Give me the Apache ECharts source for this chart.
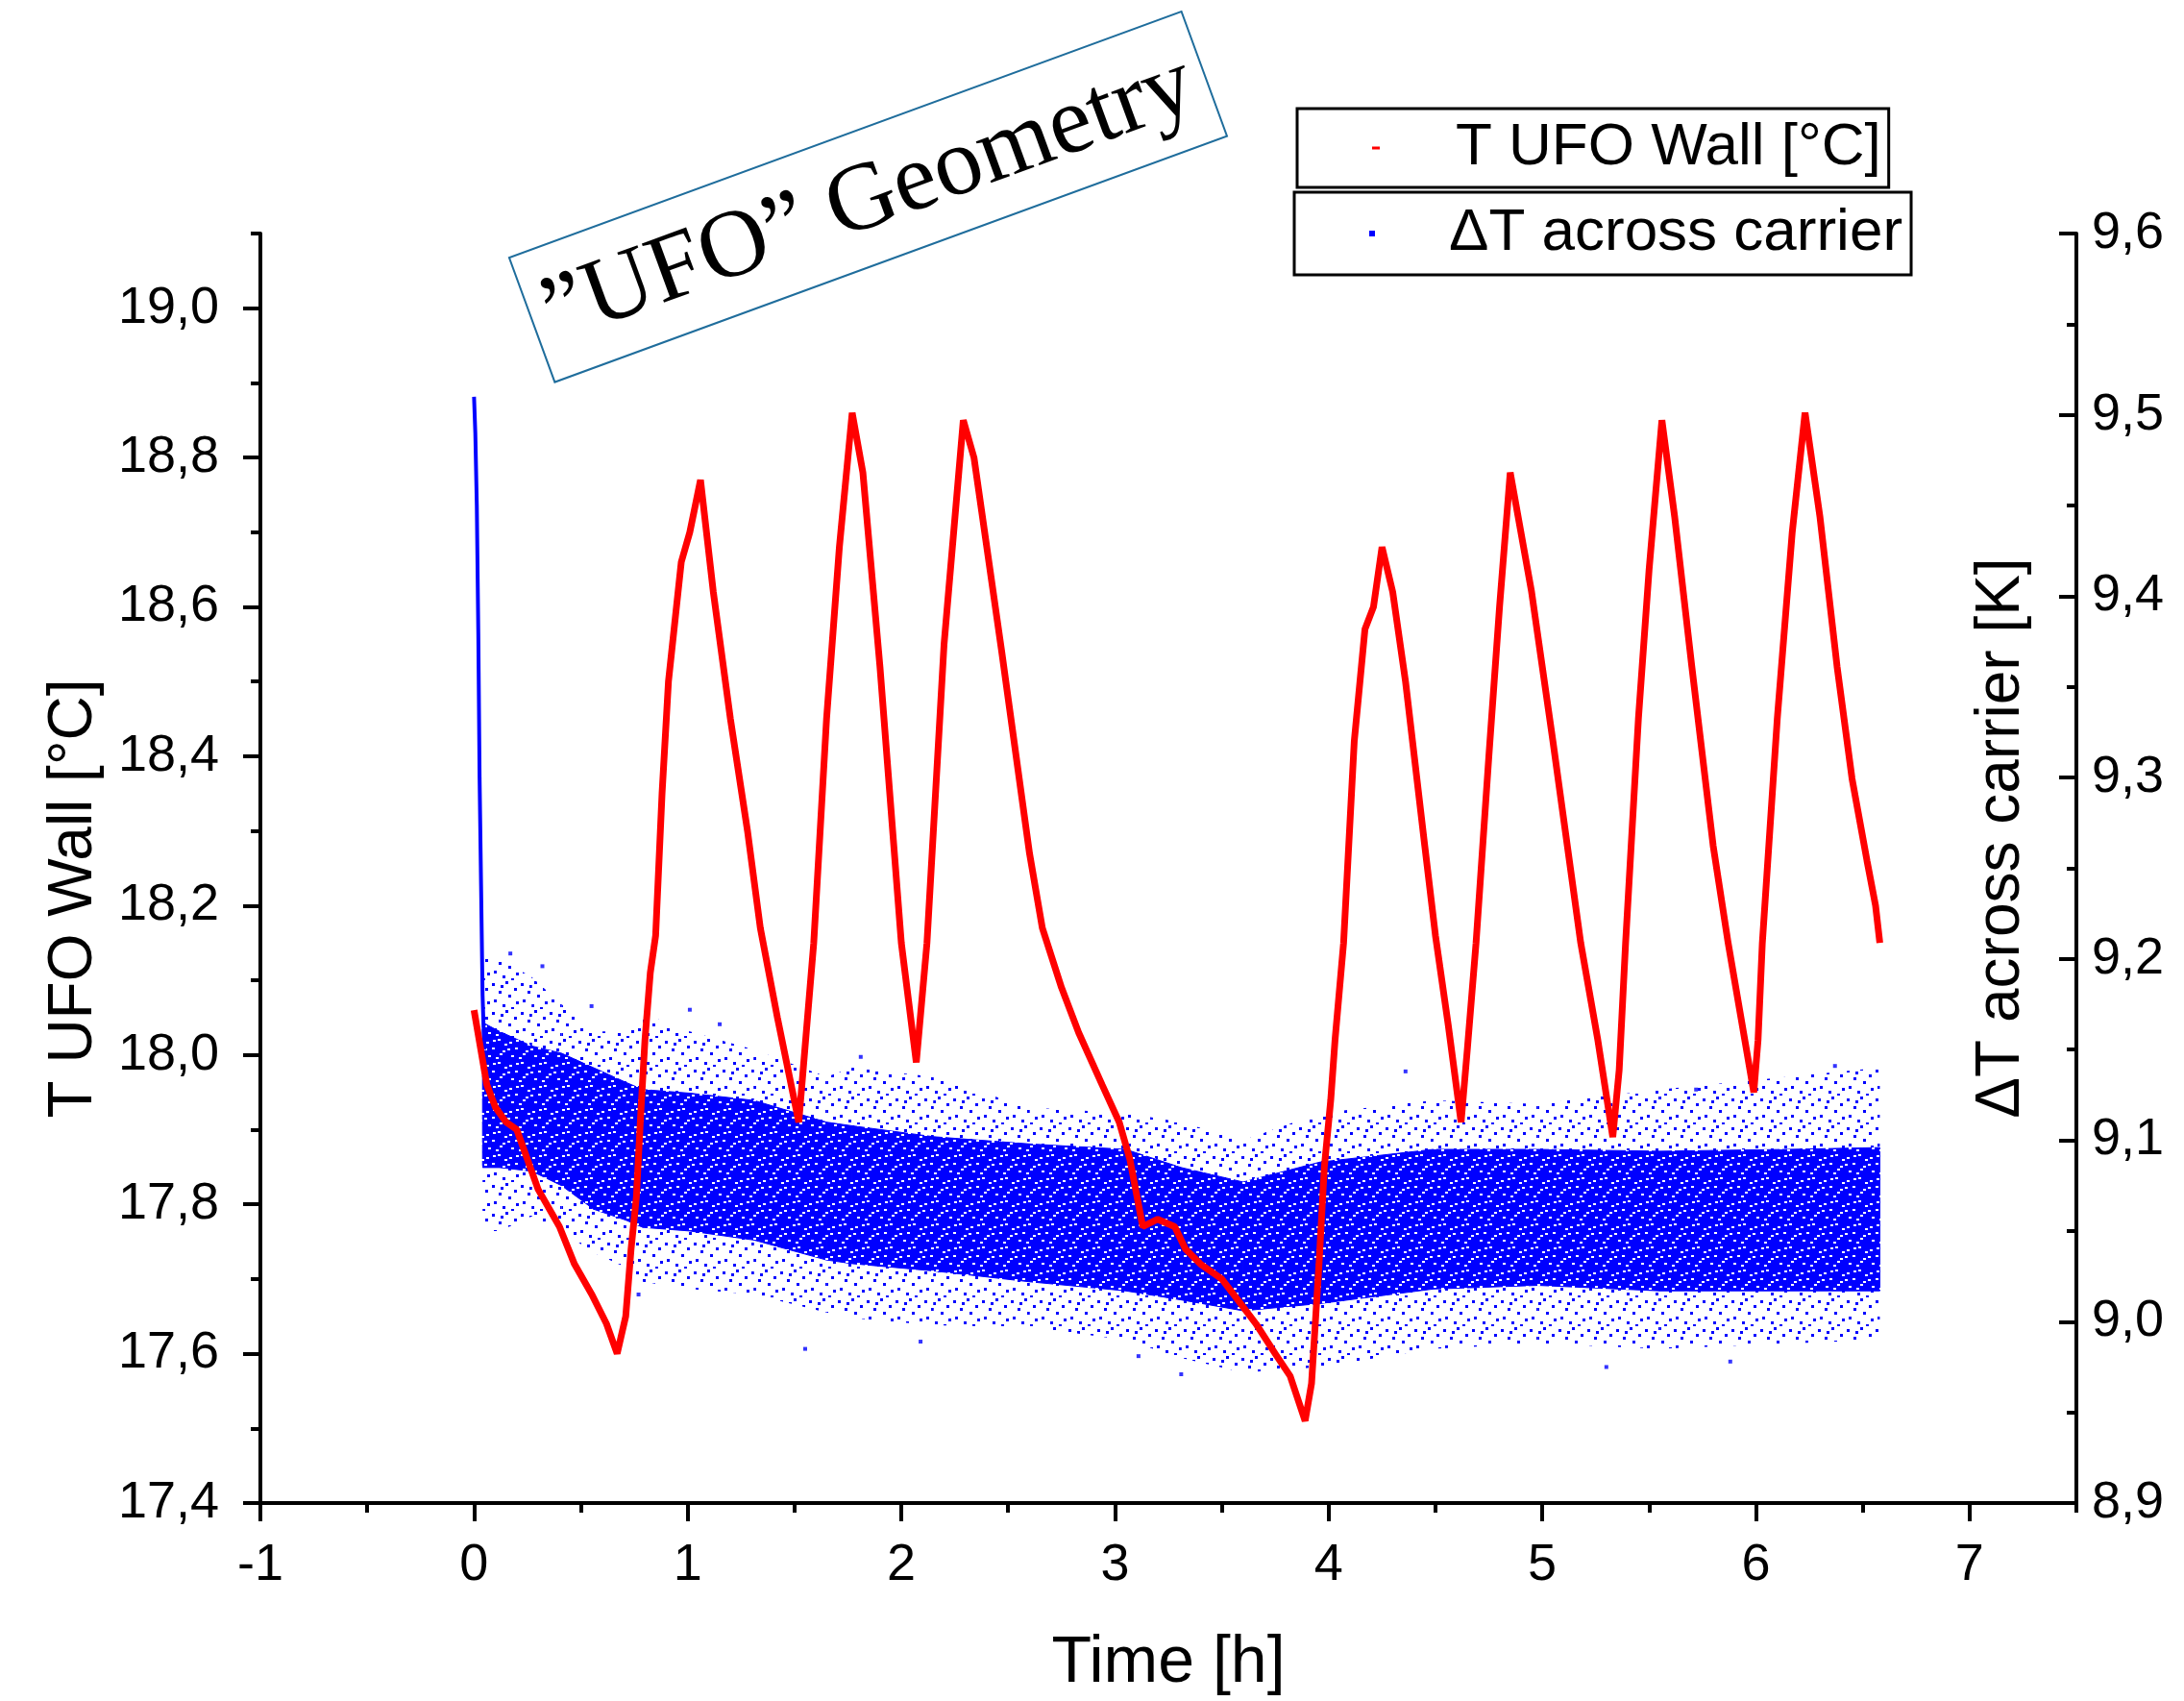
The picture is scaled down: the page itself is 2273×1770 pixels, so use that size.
<!DOCTYPE html>
<html>
<head>
<meta charset="utf-8">
<title>UFO Geometry – wall temperature and carrier ΔT</title>
<script src="https://cdn.jsdelivr.net/npm/echarts@6/dist/echarts.min.js"></script>
<style>
  html, body { margin: 0; padding: 0; background: #fff; }
  #chart { width: 2273px; height: 1770px; }
</style>
</head>
<body>
<div id="chart"></div>
<script>
// ---- Wall temperature trace (left axis, °C) ----
const redTime = [0, 0.03, 0.06, 0.10, 0.15, 0.20, 0.25, 0.30, 0.40, 0.47, 0.55, 0.62, 0.67,
  0.71, 0.735, 0.76, 0.78, 0.80, 0.825, 0.85, 0.88, 0.91, 0.97, 1.01, 1.06,
  1.12, 1.20, 1.28, 1.34, 1.42, 1.52, 1.59, 1.65, 1.71, 1.77, 1.82, 1.90, 2.00, 2.07,
  2.12, 2.20, 2.29, 2.34, 2.47, 2.60, 2.66, 2.75, 2.83, 2.94, 3.02, 3.07, 3.11, 3.13,
  3.20, 3.28, 3.33, 3.40, 3.50, 3.58, 3.66, 3.75, 3.82, 3.89, 3.92, 3.955, 3.98, 4.01,
  4.03, 4.07, 4.12, 4.17, 4.21, 4.25, 4.30, 4.36, 4.45, 4.50, 4.56, 4.62, 4.65, 4.69,
  4.75, 4.80, 4.85, 4.95, 5.05, 5.18, 5.26, 5.33, 5.36, 5.39, 5.45, 5.50, 5.56, 5.62,
  5.70, 5.80, 5.87, 5.93, 5.99, 6.01, 6.03, 6.10, 6.17, 6.23, 6.30, 6.38, 6.45, 6.52,
  6.56, 6.58];
const redTemp = [18.06, 18.01, 17.96, 17.93, 17.91, 17.90, 17.86, 17.82, 17.77, 17.72, 17.68, 17.64, 17.60,
  17.65, 17.74, 17.81, 17.92, 18.02, 18.11, 18.16, 18.35, 18.50, 18.66, 18.70, 18.77,
  18.62, 18.45, 18.30, 18.17, 18.05, 17.91, 18.15, 18.45, 18.68, 18.86, 18.78, 18.52, 18.15, 17.99,
  18.15, 18.55, 18.85, 18.80, 18.54, 18.27, 18.17, 18.09, 18.03, 17.96, 17.91, 17.86, 17.80, 17.77,
  17.78, 17.77, 17.74, 17.72, 17.70, 17.67, 17.64, 17.60, 17.57, 17.51, 17.56, 17.72, 17.85, 17.94,
  18.02, 18.15, 18.42, 18.57, 18.60, 18.68, 18.62, 18.50, 18.28, 18.16, 18.04, 17.91, 18.01, 18.15,
  18.40, 18.60, 18.78, 18.62, 18.42, 18.15, 18.02, 17.89, 17.98, 18.15, 18.45, 18.65, 18.85, 18.72,
  18.52, 18.28, 18.15, 18.05, 17.95, 18.02, 18.15, 18.45, 18.70, 18.86, 18.72, 18.52, 18.37, 18.26,
  18.20, 18.15];

// ---- Carrier ΔT scatter band (right axis, K): dense core and sparse fringe limits ----
const bandTime   = [0.04, 0.12, 0.27, 0.41, 0.56, 0.71, 0.79, 1.01, 1.31, 1.65, 1.77, 2.15, 2.60, 3.05, 3.31, 3.60, 3.96, 4.49, 4.98, 5.55, 6.15, 6.58];
const coreLow    = [9.085, 9.085, 9.083, 9.075, 9.062, 9.056, 9.052, 9.050, 9.045, 9.034, 9.032, 9.028, 9.022, 9.017, 9.012, 9.006, 9.010, 9.018, 9.020, 9.017, 9.017, 9.017];
const coreHigh   = [9.165, 9.160, 9.152, 9.148, 9.140, 9.132, 9.128, 9.126, 9.122, 9.110, 9.108, 9.102, 9.098, 9.095, 9.085, 9.077, 9.088, 9.095, 9.095, 9.094, 9.095, 9.096];
const fringeLow  = [9.050, 9.050, 9.058, 9.050, 9.038, 9.030, 9.022, 9.018, 9.015, 9.005, 9.002, 8.998, 8.997, 8.990, 8.980, 8.972, 8.975, 8.985, 8.988, 8.985, 8.988, 8.990];
const fringeHigh = [9.200, 9.200, 9.190, 9.175, 9.160, 9.160, 9.170, 9.160, 9.150, 9.135, 9.140, 9.135, 9.118, 9.115, 9.110, 9.100, 9.115, 9.122, 9.120, 9.128, 9.135, 9.140];

// start-up transient of ΔT right after t = 0
const spikeTime  = [0.000, 0.006, 0.013, 0.020, 0.026, 0.033, 0.040, 0.048];
const spikeDelta = [9.51, 9.49, 9.45, 9.38, 9.30, 9.24, 9.18, 9.15];

// isolated ΔT readings outside the band
const strayTime  = [0.17, 0.32, 0.55, 0.77, 1.01, 1.15, 1.55, 1.81, 2.09, 3.11, 3.31, 4.36, 5.30, 5.72, 5.88, 6.37];
const strayDelta = [9.203, 9.196, 9.174, 9.015, 9.172, 9.164, 8.985, 9.146, 8.989, 8.981, 8.971, 9.138, 8.975, 9.128, 8.978, 9.141];

// ---- axis ticks ----
const timeTicks = [-1, 0, 1, 2, 3, 4, 5, 6, 7];
const tempTicks = [17.4, 17.6, 17.8, 18.0, 18.2, 18.4, 18.6, 18.8, 19.0];

const FONT = 'Liberation Sans, Arial, Helvetica, sans-serif';
const RED = '#ff0000';
const BLUE = '#0000ff';

// small texture tiles for the scatter band
function makeTile(size, background, speck, specks, w, h) {
  const cv = document.createElement('canvas');
  cv.width = size; cv.height = size;
  const ctx = cv.getContext('2d');
  if (background) { ctx.fillStyle = background; ctx.fillRect(0, 0, size, size); }
  ctx.fillStyle = speck;
  specks.forEach(([x, y]) => ctx.fillRect(x, y, w, h));
  return cv;
}
const coreTile = makeTile(24, BLUE, '#ffffff',
  [[2, 4], [14, 1], [8, 10], [19, 13], [4, 18], [12, 20], [21, 6], [16, 16], [0, 11], [9, 2]], 3, 2);
const fringeTile = makeTile(30, null, BLUE,
  [[2, 3], [16, 1], [25, 8], [9, 11], [19, 15], [4, 20], [27, 22], [13, 25], [22, 28], [11, 5]], 3, 3);
const corePattern = { image: coreTile, repeat: 'repeat' };
const fringePattern = { image: fringeTile, repeat: 'repeat' };

const bandSegments = [];
for (let i = 1; i < bandTime.length; i++) {
  bandSegments.push([
    bandTime[i - 1], bandTime[i],
    coreLow[i - 1], coreHigh[i - 1], coreLow[i], coreHigh[i],
    fringeLow[i - 1], fringeHigh[i - 1], fringeLow[i], fringeHigh[i]
  ]);
}

function renderBand(params, api) {
  const t0 = api.value(0), t1 = api.value(1);
  const p = (t, v) => api.coord([t, v]);
  const fringe = [p(t0, api.value(7)), p(t1, api.value(9)), p(t1, api.value(8)), p(t0, api.value(6))];
  const core = [p(t0, api.value(3)), p(t1, api.value(5)), p(t1, api.value(4)), p(t0, api.value(2))];
  return {
    type: 'group',
    children: [
      { type: 'polygon', shape: { points: fringe }, style: { fill: fringePattern } },
      { type: 'polygon', shape: { points: core }, style: { fill: corePattern, stroke: corePattern, lineWidth: 1 } }
    ]
  };
}

const comma = v => v.toFixed(1).replace('.', ',');

const chart = echarts.init(document.getElementById('chart'), null, { renderer: 'canvas' });

const option = {
  animation: false,
  backgroundColor: '#ffffff',
  textStyle: { fontFamily: FONT },
  grid: { left: 271, right: 112, top: 243, bottom: 206, containLabel: false, outerBoundsMode: 'none' },
  legend: [
    {
      data: [{ name: 'T UFO Wall [°C]', icon: 'rect', itemStyle: { color: RED } }],
      left: 1350, top: 113,
      padding: [10, 8, 10, 78],
      itemWidth: 8, itemHeight: 3,
      borderColor: '#000', borderWidth: 3, backgroundColor: '#fff',
      selectedMode: false,
      formatter: n => '{g| }' + n,
      textStyle: { fontFamily: FONT, fontSize: 62, color: '#000', rich: { g: { width: 74 } } }
    },
    {
      data: [{ name: 'ΔT across carrier', icon: 'rect', itemStyle: { color: BLUE } }],
      left: 1347, top: 200,
      padding: [12, 9, 12, 78],
      itemWidth: 6, itemHeight: 6,
      borderColor: '#000', borderWidth: 3, backgroundColor: '#fff',
      selectedMode: false,
      formatter: n => '{g| }' + n,
      textStyle: { fontFamily: FONT, fontSize: 62, color: '#000', rich: { g: { width: 72 } } }
    }
  ],
  xAxis: [
    {
      type: 'value', position: 'bottom', min: -1, max: 7.5, interval: 1,
      name: 'Time [h]', nameLocation: 'middle', nameGap: 133,
      nameTextStyle: { fontFamily: FONT, fontSize: 68, color: '#000' },
      axisLine: { onZero: false, lineStyle: { color: '#000', width: 4 } },
      axisTick: { customValues: timeTicks, length: 19, lineStyle: { color: '#000', width: 4 } },
      axisLabel: { customValues: timeTicks, formatter: v => String(v), margin: 38,
        fontFamily: FONT, fontSize: 54, color: '#000' },
      splitLine: { show: false }
    },
    {
      type: 'value', position: 'bottom', min: -1, max: 7.5, interval: 0.5,
      axisLine: { show: false, onZero: false },
      axisTick: { length: 10, lineStyle: { color: '#000', width: 4 } },
      axisLabel: { show: false },
      splitLine: { show: false }
    }
  ],
  yAxis: [
    {
      type: 'value', position: 'left', min: 17.4, max: 19.1, interval: 0.2,
      axisLine: { show: true, onZero: false, lineStyle: { color: '#000', width: 4 } },
      axisTick: { customValues: tempTicks, length: 18, lineStyle: { color: '#000', width: 4 } },
      axisLabel: { customValues: tempTicks, formatter: comma, margin: 43,
        fontFamily: FONT, fontSize: 54, color: '#000' },
      splitLine: { show: false }
    },
    {
      type: 'value', position: 'right', min: 8.9, max: 9.6, interval: 0.1,
      axisLine: { show: true, onZero: false, lineStyle: { color: '#000', width: 4 } },
      axisTick: { inside: true, length: 18, lineStyle: { color: '#000', width: 4 } },
      minorTick: { show: true, splitNumber: 2, length: 10, lineStyle: { color: '#000', width: 4 } },
      axisLabel: { formatter: comma, margin: 16, fontFamily: FONT, fontSize: 54, color: '#000' },
      splitLine: { show: false },
      minorSplitLine: { show: false }
    },
    {
      type: 'value', position: 'left', min: 17.4, max: 19.1, interval: 0.1,
      axisLine: { show: false, onZero: false },
      axisTick: { length: 10, lineStyle: { color: '#000', width: 4 } },
      axisLabel: { show: false },
      splitLine: { show: false }
    }
  ],
  series: [
    {
      name: 'ΔT across carrier',
      type: 'custom',
      xAxisIndex: 0, yAxisIndex: 1,
      renderItem: renderBand,
      itemStyle: { color: BLUE },
      encode: { x: [0, 1], y: [2, 3, 4, 5, 6, 7, 8, 9] },
      data: bandSegments,
      z: 2,
      silent: true
    },
    {
      name: 'ΔT across carrier',
      type: 'line',
      xAxisIndex: 0, yAxisIndex: 1,
      data: spikeTime.map((t, i) => [t, spikeDelta[i]]),
      showSymbol: false,
      lineStyle: { color: BLUE, width: 4 },
      itemStyle: { color: BLUE },
      z: 2
    },
    {
      name: 'ΔT across carrier',
      type: 'scatter',
      xAxisIndex: 0, yAxisIndex: 1,
      data: strayTime.map((t, i) => [t, strayDelta[i]]),
      symbol: 'rect', symbolSize: [4, 4],
      itemStyle: { color: BLUE },
      z: 2
    },
    {
      name: 'T UFO Wall [°C]',
      type: 'line',
      xAxisIndex: 0, yAxisIndex: 0,
      data: redTime.map((t, i) => [t, redTemp[i]]),
      showSymbol: false,
      lineStyle: { color: RED, width: 7 },
      itemStyle: { color: RED },
      z: 5
    }
  ],
  graphic: [
    // y-axis titles
    {
      type: 'text', x: 77, y: 935, rotation: Math.PI / 2,
      style: { text: 'T UFO Wall [°C]', fontFamily: FONT, fontSize: 64, fill: '#000',
        align: 'center', verticalAlign: 'middle' }
    },
    {
      type: 'text', x: 2083, y: 872, rotation: Math.PI / 2,
      style: { text: 'ΔT across carrier [K]', fontFamily: FONT, fontSize: 64, fill: '#000',
        align: 'center', verticalAlign: 'middle' }
    },
    // annotation box
    {
      type: 'group',
      x: 903, y: 205,
      rotation: 20.1 * Math.PI / 180,
      z: 10,
      children: [
        {
          type: 'rect',
          shape: { x: -372, y: -69, width: 745, height: 138 },
          style: { fill: '#ffffff', stroke: '#1f6d9c', lineWidth: 2 }
        },
        {
          type: 'text',
          x: 0, y: 4,
          style: {
            text: '\u201DUFO\u201D Geometry',
            fontFamily: 'Liberation Serif, Times New Roman, serif',
            fontSize: 100,
            fill: '#000',
            align: 'center',
            verticalAlign: 'middle'
          }
        }
      ]
    }
  ]
};

chart.setOption(option);
</script>
</body>
</html>
